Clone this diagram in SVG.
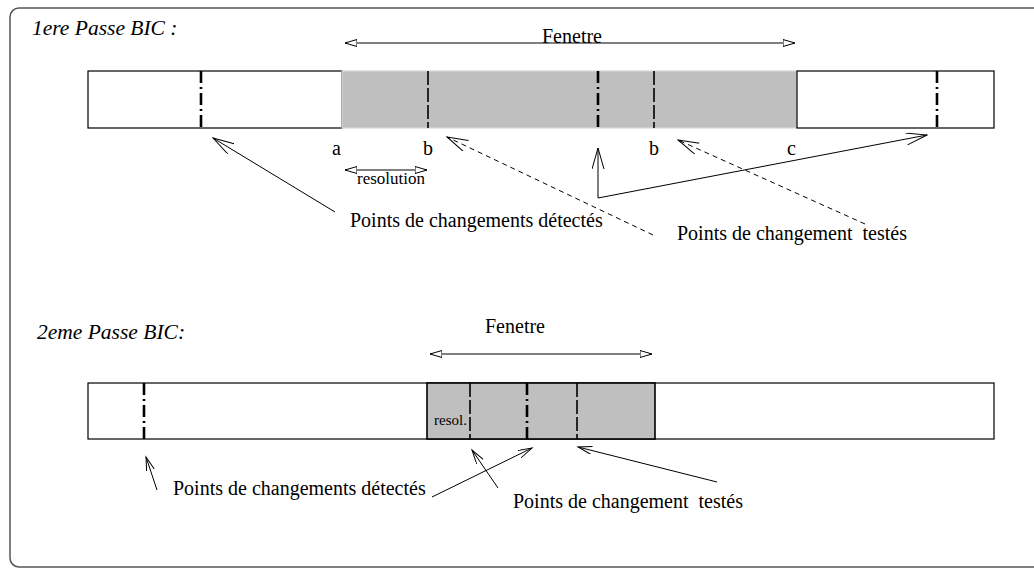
<svg xmlns="http://www.w3.org/2000/svg" width="1034" height="569" viewBox="0 0 1034 569">
  <style>
    text { font-family: "Liberation Serif", "Times New Roman", serif; fill: #000; }
    .title { font-size: 21.5px; font-style: italic; }
    .lbl { font-size: 20px; white-space: pre; }
    .small { font-size: 17px; }
    .tiny { font-size: 15px; }
    .box { fill: #fff; stroke: #000; stroke-width: 1.2; }
    .win1 { fill: #bfbfbf; stroke: #d8d8d8; stroke-width: 1.2; }
    .win2 { fill: #bfbfbf; stroke: #000; stroke-width: 1.6; }
    .detected { stroke: #000; stroke-width: 2.6; stroke-dasharray: 12 4 2 4; fill: none; }
    .tested { stroke: #000; stroke-width: 1.6; stroke-dasharray: 14 3; fill: none; }
    .link { stroke: #000; stroke-width: 1; fill: none; }
    .dash { stroke-dasharray: 5 4; }
    .big { marker-end: url(#veeBig); }
    .sm { marker-end: url(#veeSmall); }
    .span { stroke: #000; stroke-width: 1; fill: none; marker-start: url(#tri); marker-end: url(#tri); }
  </style>
  <defs>
    <marker id="veeBig" markerUnits="userSpaceOnUse" markerWidth="22" markerHeight="14" refX="21" refY="6" orient="auto">
      <path d="M0,0 L21,6 L0,12" fill="none" stroke="#000" stroke-width="1"/>
    </marker>
    <marker id="veeSmall" markerUnits="userSpaceOnUse" markerWidth="16" markerHeight="10" refX="14" refY="4" orient="auto">
      <path d="M0,0 L14,4 L0,8" fill="none" stroke="#000" stroke-width="1"/>
    </marker>
    <marker id="tri" markerUnits="userSpaceOnUse" markerWidth="14" markerHeight="10" refX="12" refY="4" orient="auto-start-reverse">
      <path d="M0,0.5 L12,4 L0,7.5 Z" fill="#fff" stroke="#000" stroke-width="1"/>
    </marker>
  </defs>

  <!-- outer frame, its right side runs past the page edge -->
  <rect x="10" y="8" width="1060" height="559" rx="9" fill="#fff" stroke="#555" stroke-width="1.5"/>

  <!-- first pass -->
  <g id="pass1">
    <text class="title" x="32" y="35">1ere Passe BIC :</text>
    <g id="pass1-bar">
      <rect class="box" x="88" y="71" width="254" height="57"/>
      <rect class="win1" x="342" y="71" width="455" height="57"/>
      <rect class="box" x="797" y="71" width="197" height="57"/>
      <line class="detected" x1="201" y1="71" x2="201" y2="128"/>
      <line class="tested" x1="428" y1="71" x2="428" y2="128"/>
      <line class="detected" x1="598" y1="71" x2="598" y2="128"/>
      <line class="tested" x1="654" y1="71" x2="654" y2="128"/>
      <line class="detected" x1="937" y1="71" x2="937" y2="128"/>
    </g>
    <g id="pass1-window">
      <line class="span" x1="345" y1="43" x2="795" y2="43"/>
      <text class="lbl" x="542" y="43">Fenetre</text>
    </g>
    <g id="pass1-marks">
      <text class="lbl" x="332" y="155">a</text>
      <text class="lbl" x="423" y="155">b</text>
      <text class="lbl" x="649" y="155">b</text>
      <text class="lbl" x="787" y="155">c</text>
      <line class="span" x1="345" y1="170" x2="427" y2="170"/>
      <text class="small" x="357" y="184">resolution</text>
    </g>
    <g id="pass1-detected">
      <text class="lbl" x="350" y="227">Points de changements détectés</text>
    </g>
    <g id="pass1-tested">
      <text class="lbl" x="677" y="240">Points de changement  testés</text>
    </g>
  </g>

  <!-- second pass -->
  <g id="pass2">
    <text class="title" x="37" y="339">2eme Passe BIC:</text>
    <g id="pass2-bar">
      <rect class="box" x="88" y="383" width="906" height="56"/>
      <rect class="win2" x="427" y="383" width="228" height="56"/>
      <line class="detected" x1="144" y1="383" x2="144" y2="439"/>
      <line class="tested" x1="470" y1="383" x2="470" y2="439"/>
      <line class="detected" x1="527" y1="383" x2="527" y2="439"/>
      <line class="tested" x1="577" y1="383" x2="577" y2="439"/>
      <text class="tiny" x="434" y="425">resol.</text>
    </g>
    <g id="pass2-window">
      <line class="span" x1="430" y1="354" x2="652" y2="354"/>
      <text class="lbl" x="485" y="333">Fenetre</text>
    </g>
    <g id="pass2-detected">
      <text class="lbl" x="173" y="495">Points de changements détectés</text>
    </g>
    <g id="pass2-tested">
      <text class="lbl" x="513" y="508">Points de changement  testés</text>
    </g>
  </g>

  <!-- connectors -->
  <g id="connectors">
    <line class="link big" x1="335" y1="212" x2="213" y2="138"/>
    <line class="link dash big" x1="653" y1="235" x2="447" y2="137"/>
    <line class="link dash big" x1="865" y1="224" x2="678" y2="140"/>
    <line class="link big" x1="598" y1="198" x2="598" y2="148"/>
    <line class="link big" x1="598" y1="198" x2="927" y2="135"/>

    <line class="link sm" x1="157" y1="490" x2="146" y2="457"/>
    <line class="link sm" x1="432" y1="497" x2="532" y2="448"/>
    <line class="link sm" x1="498" y1="488" x2="472" y2="450"/>
    <line class="link sm" x1="717" y1="482" x2="578" y2="447"/>
  </g>
</svg>
